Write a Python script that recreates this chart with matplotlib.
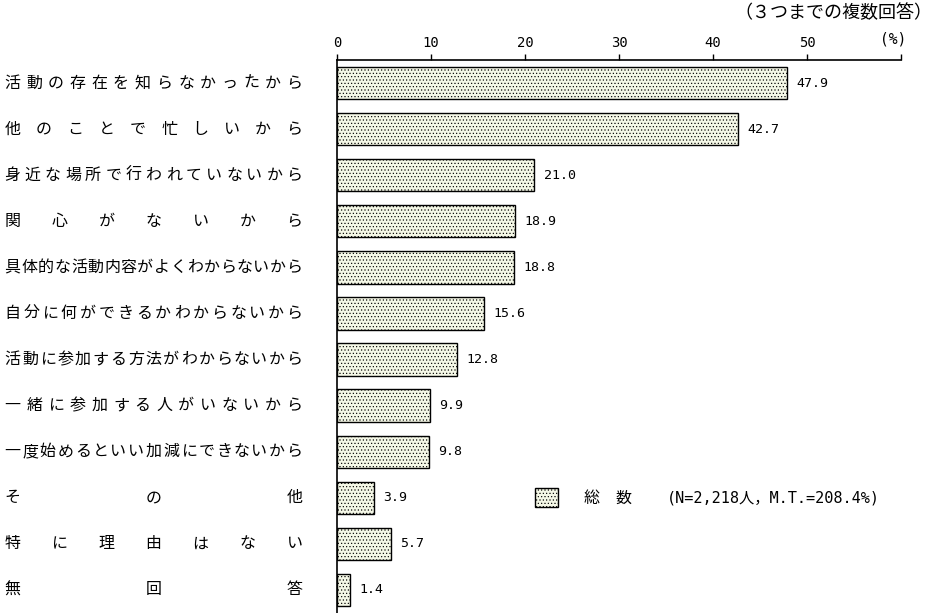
import matplotlib
matplotlib.use('Agg')
import matplotlib.pyplot as plt
import matplotlib.transforms as mtransforms
from matplotlib.patches import Patch

JP = ['Noto Sans CJK JP', 'DejaVu Sans']
MONO = ['DejaVu Sans Mono', 'Noto Sans CJK JP']

categories = [
    '活動の存在を知らなかったから',
    '他のことで忙しいから',
    '身近な場所で行われていないから',
    '関心がないから',
    '具体的な活動内容がよくわからないから',
    '自分に何ができるかわからないから',
    '活動に参加する方法がわからないから',
    '一緒に参加する人がいないから',
    '一度始めるといい加減にできないから',
    'その他',
    '特に理由はない',
    '無回答',
]
values = [47.9, 42.7, 21.0, 18.9, 18.8, 15.6, 12.8, 9.9, 9.8, 3.9, 5.7, 1.4]
x_ticks = [0, 10, 20, 30, 40, 50, 60]
x_tick_labels = ['0', '10', '20', '30', '40', '50', '']

BAR_FACE = '#f4f7e6'
HATCH = '.....'
plt.rcParams['hatch.color'] = '#4a4a4a'
plt.rcParams['hatch.linewidth'] = 0.45

W, H = 934, 613
fig = plt.figure(figsize=(W / 100, H / 100), dpi=100)
ax = fig.add_axes([337 / W, 0.0, (901 - 337) / W, 1 - 60 / H])

rows = list(range(len(categories)))
ax.barh(rows, values, height=0.7, color=BAR_FACE, edgecolor='black',
        linewidth=1.0, hatch=HATCH)

ax.set_xlim(0, 60)
ax.set_ylim(len(categories) - 0.5, -0.5)

ax.xaxis.tick_top()
ax.set_xticks(x_ticks)
ax.set_xticklabels(x_tick_labels, family=MONO, fontsize=10)
ax.tick_params(axis='x', direction='out', length=4.5, width=1, pad=2.5, color='black')
ax.set_yticks([])
for side in ['right', 'bottom']:
    ax.spines[side].set_visible(False)
ax.spines['top'].set_linewidth(1.2)
ax.spines['left'].set_linewidth(1.2)

# value labels
for r, v in zip(rows, values):
    ax.text(v + 1.0, r, f'{v:.1f}', va='center', ha='left',
            family=MONO, fontsize=9.5)

fig.text(893 / W, 1 - 39 / H, '(%)', ha='center', va='center',
         family=MONO, fontsize=10.5)

# category labels, spread evenly between left and right edge (justified)
trans = mtransforms.blended_transform_factory(fig.transFigure, ax.transData)
left_px, right_px, char_px = 5, 302, 15
for r, label in zip(rows, categories):
    n = len(label)
    step = (right_px - left_px - char_px) / (n - 1)
    for i, ch in enumerate(label):
        cx = left_px + char_px / 2 + i * step
        fig.text(cx / W, r, ch, transform=trans, ha='center', va='center',
                 family=JP, fontsize=11.5)

# legend
handle = Patch(facecolor=BAR_FACE, edgecolor='black', hatch=HATCH, linewidth=1.0)
ax.legend([handle], ['総　数'], loc='center left',
          bbox_to_anchor=((535 - 337) / 564, 1 - 9.5 / 12), frameon=False,
          prop={'family': JP, 'size': 11.5}, handlelength=1.45, handleheight=1.45,
          handletextpad=1.6, borderpad=0, borderaxespad=0)
fig.text(667 / W, 9, '(N=2,218人，M.T.=208.4%)', transform=trans,
         ha='left', va='center', family=MONO, fontsize=11)

fig.text(932 / W, 1 - 13 / H, '（３つまでの複数回答）', ha='right', va='center',
         family=JP, fontsize=13)

fig.savefig('out.png', dpi=100)
